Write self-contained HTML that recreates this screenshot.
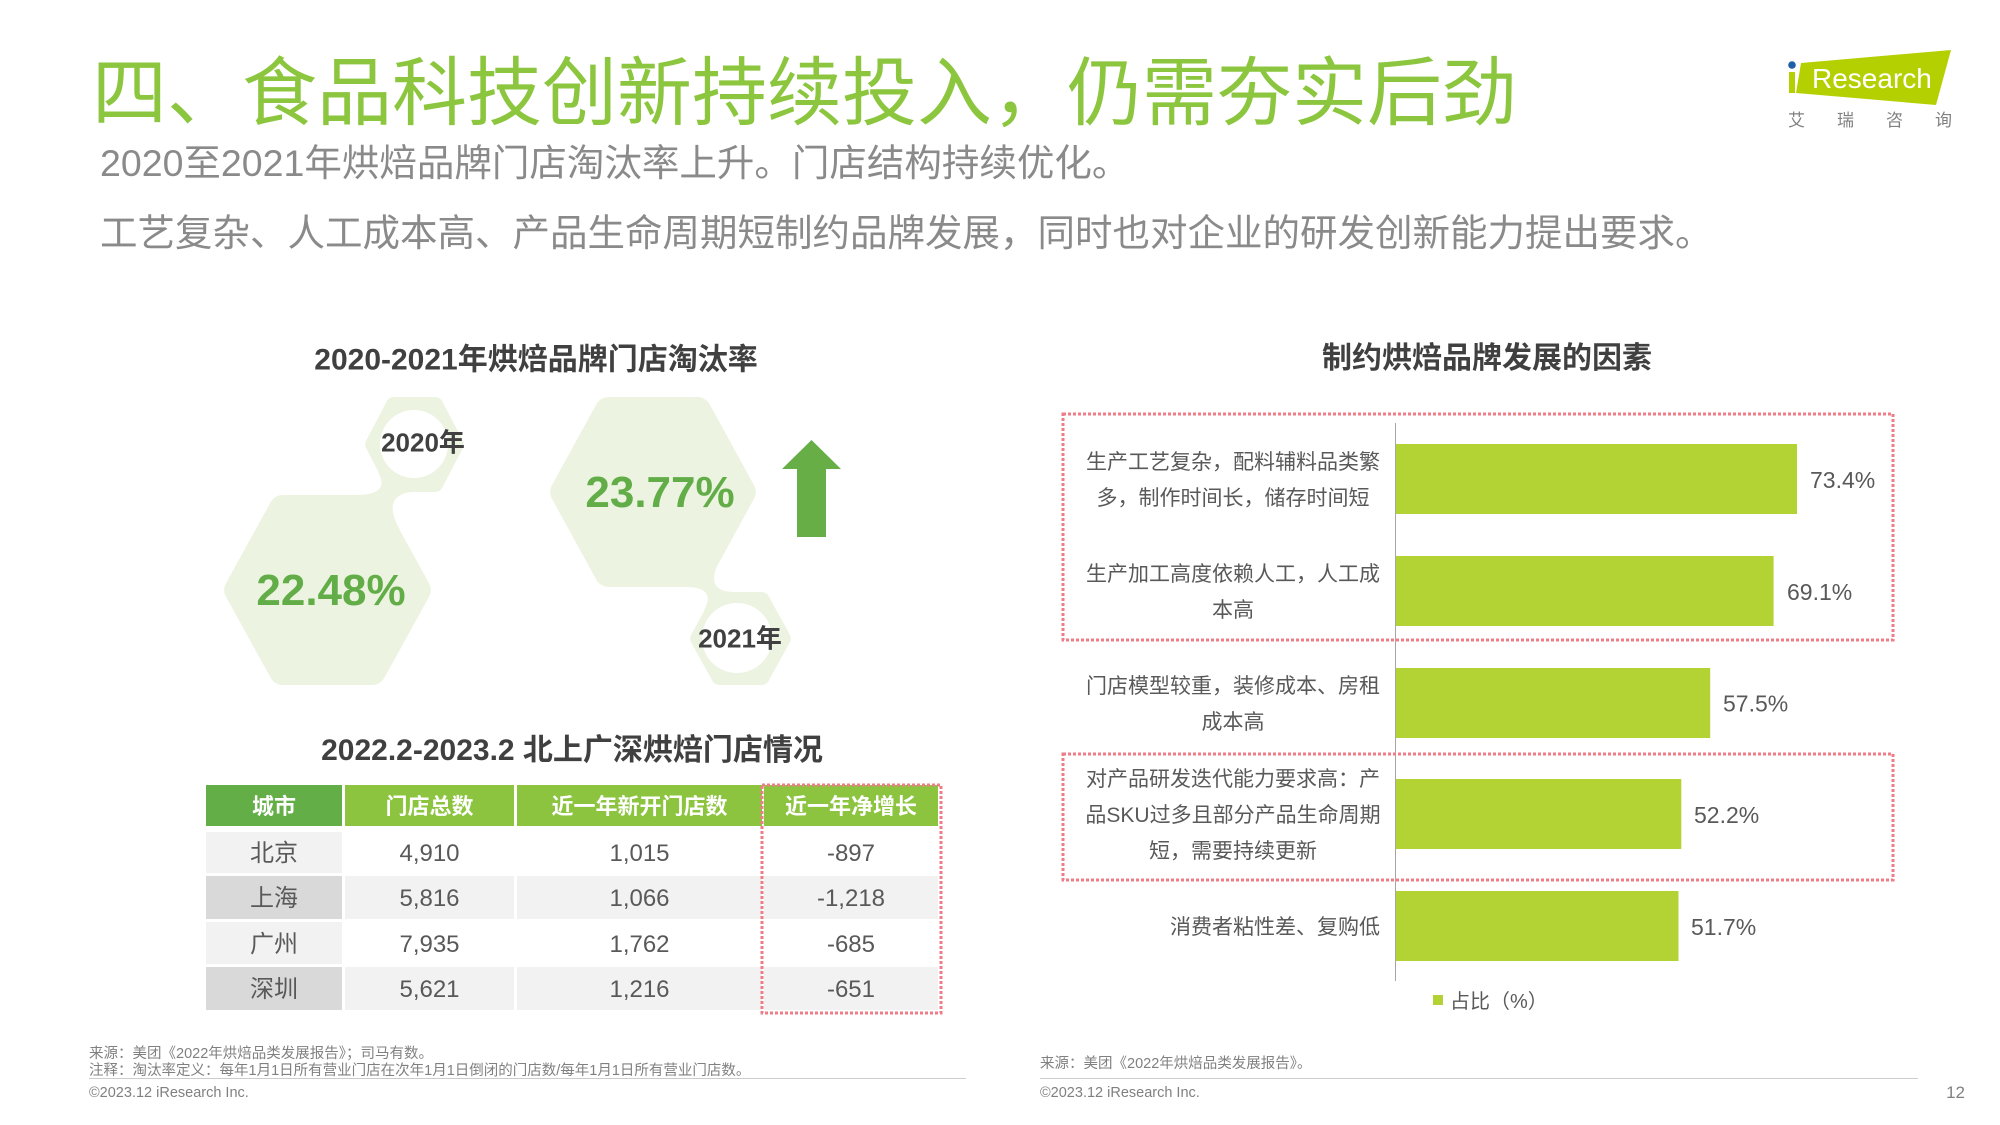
<!DOCTYPE html>
<html><head><meta charset="utf-8"><style>
html,body{margin:0;padding:0;background:#fff;}
svg{display:block;}
text{font-family:"Liberation Sans","Noto Sans CJK SC",sans-serif;}
</style></head><body>
<svg width="2000" height="1125" viewBox="0 0 2000 1125" xmlns="http://www.w3.org/2000/svg">
<rect width="2000" height="1125" fill="#fff"/>
<!-- Title -->
<text x="92" y="119" font-size="75" fill="#8cc63f">四、食品科技创新持续投入，仍需夯实后劲</text>
<text x="100" y="176" font-size="37.5" fill="#8a8a8a">2020至2021年烘焙品牌门店淘汰率上升。门店结构持续优化。</text>
<text x="100" y="246" font-size="37.5" fill="#8a8a8a">工艺复杂、人工成本高、产品生命周期短制约品牌发展，同时也对企业的研发创新能力提出要求。</text>

<!-- Logo -->
<polygon points="1801,63 1951,50 1936,105 1796,93" fill="#b5d000"/>
<rect x="1789" y="72" width="6" height="21" fill="#b5d000"/>
<circle cx="1792" cy="65" r="3.8" fill="#1f5fa8"/>
<text x="1812" y="88" font-size="28" fill="#fff">Research</text>
<text x="1788" y="126" font-size="17" fill="#808080" letter-spacing="32">艾瑞咨询</text>

<!-- Left chart title -->
<text x="536" y="369.5" font-size="30" font-weight="700" fill="#404040" text-anchor="middle">2020-2021年烘焙品牌门店淘汰率</text>

<!-- Hexagons -->
<g fill="#ecf4e1" stroke="#ecf4e1" stroke-linejoin="round">
<polygon stroke-width="28" points="238.2,590 282.85,509 372.15,509 416.8,590 372.15,671 282.85,671"/>
<polygon stroke-width="16" points="373.2,444.5 393.85,405 435.15,405 455.8,444.5 435.15,484 393.85,484"/>
<polygon stroke-width="28" points="564.2,492 608.6,411 697.4,411 741.8,492 697.4,573 608.6,573"/>
<polygon stroke-width="16" points="698.2,638.5 719.35,600 761.65,600 782.8,638.5 761.65,677 719.35,677"/>
</g>
<g fill="#ecf4e1">
<path d="M378,472 Q391,495 355,495 L400,530 Q378.6,491.5 420,491.5 Z"/>
<path d="M720,560 Q703,592 735,592 L704,610 Q717,587 685,587 Z"/>
</g>
<circle cx="414" cy="444" r="34" fill="#fff"/>
<circle cx="737" cy="638" r="35" fill="#fff"/>
<text x="423" y="451.6" font-size="26" font-weight="700" fill="#404040" text-anchor="middle">2020年</text>
<text x="740" y="647.6" font-size="26" font-weight="700" fill="#404040" text-anchor="middle">2021年</text>
<text x="331" y="605" font-size="44" font-weight="700" fill="#62ad47" text-anchor="middle">22.48%</text>
<text x="660" y="507" font-size="44" font-weight="700" fill="#62ad47" text-anchor="middle">23.77%</text>
<polygon points="811.5,440 841,469 826,469 826,537 797,537 797,469 782,469" fill="#67ae47"/>

<!-- Table -->
<text x="572" y="760" font-size="30" font-weight="700" fill="#404040" text-anchor="middle">2022.2-2023.2 北上广深烘焙门店情况</text>
<rect x="206" y="785" width="136" height="41" fill="#64ae47"/>
<rect x="345" y="785" width="169" height="41" fill="#8cc43f"/>
<rect x="517" y="785" width="245" height="41" fill="#8cc43f"/>
<rect x="764" y="785" width="174" height="41" fill="#8cc43f"/>
<g font-size="22" font-weight="700" fill="#fff" text-anchor="middle">
<text x="274" y="814">城市</text>
<text x="429.5" y="814">门店总数</text>
<text x="639.5" y="814">近一年新开门店数</text>
<text x="851" y="814">近一年净增长</text>
</g>
<rect x="206" y="832" width="136" height="41" fill="#f2f2f2"/>
<rect x="206" y="876" width="136" height="43" fill="#d9d9d9"/>
<rect x="206" y="922" width="136" height="42" fill="#f2f2f2"/>
<rect x="206" y="967" width="136" height="43" fill="#d9d9d9"/>
<rect x="345" y="876" width="169" height="43" fill="#f2f2f2"/>
<rect x="517" y="876" width="245" height="43" fill="#f2f2f2"/>
<rect x="764" y="876" width="174" height="43" fill="#f2f2f2"/>
<rect x="345" y="967" width="169" height="43" fill="#f2f2f2"/>
<rect x="517" y="967" width="245" height="43" fill="#f2f2f2"/>
<rect x="764" y="967" width="174" height="43" fill="#f2f2f2"/>
<g font-size="24" fill="#595959" text-anchor="middle">
<text x="274" y="861">北京</text><text x="429.5" y="861">4,910</text><text x="639.5" y="861">1,015</text><text x="851" y="861">-897</text>
<text x="274" y="906">上海</text><text x="429.5" y="906">5,816</text><text x="639.5" y="906">1,066</text><text x="851" y="906">-1,218</text>
<text x="274" y="952">广州</text><text x="429.5" y="952">7,935</text><text x="639.5" y="952">1,762</text><text x="851" y="952">-685</text>
<text x="274" y="997">深圳</text><text x="429.5" y="997">5,621</text><text x="639.5" y="997">1,216</text><text x="851" y="997">-651</text>
</g>
<rect x="762" y="785" width="179" height="228" fill="none" stroke="#ee7d87" stroke-width="3" stroke-dasharray="3 2"/>

<!-- Right chart -->
<text x="1487" y="368" font-size="30" font-weight="700" fill="#404040" text-anchor="middle">制约烘焙品牌发展的因素</text>
<line x1="1395.5" y1="423" x2="1395.5" y2="981" stroke="#a6a6a6" stroke-width="1"/>
<g fill="#b3d334">
<rect x="1396" y="444" width="401" height="70"/>
<rect x="1396" y="556" width="377.6" height="70"/>
<rect x="1396" y="668" width="314.2" height="70"/>
<rect x="1396" y="779" width="285.3" height="70"/>
<rect x="1396" y="891" width="282.5" height="70"/>
</g>
<g font-size="23" fill="#595959">
<text x="1810" y="488">73.4%</text>
<text x="1787" y="600">69.1%</text>
<text x="1723" y="711.6">57.5%</text>
<text x="1694" y="823">52.2%</text>
<text x="1691" y="935">51.7%</text>
</g>
<g font-size="21" fill="#595959" text-anchor="middle">
<text x="1233" y="469">生产工艺复杂，配料辅料品类繁</text>
<text x="1233" y="505">多，制作时间长，储存时间短</text>
<text x="1233" y="581">生产加工高度依赖人工，人工成</text>
<text x="1233" y="617">本高</text>
<text x="1233" y="693">门店模型较重，装修成本、房租</text>
<text x="1233" y="729">成本高</text>
<text x="1233" y="786">对产品研发迭代能力要求高：产</text>
<text x="1233" y="822">品SKU过多且部分产品生命周期</text>
<text x="1233" y="858">短，需要持续更新</text>
<text x="1380" y="934" text-anchor="end">消费者粘性差、复购低</text>
</g>
<rect x="1063" y="414" width="830" height="226" fill="none" stroke="#ee7d87" stroke-width="3" stroke-dasharray="3 2"/>
<rect x="1063" y="754" width="830" height="126" fill="none" stroke="#ee7d87" stroke-width="3" stroke-dasharray="3 2"/>
<rect x="1433" y="995" width="10" height="10" fill="#b3d334"/>
<text x="1450" y="1008" font-size="20" fill="#595959">占比（%）</text>

<!-- Footer -->
<g font-size="14.5" fill="#808080">
<text x="89" y="1058">来源：美团《2022年烘焙品类发展报告》；司马有数。</text>
<text x="89" y="1075">注释：淘汰率定义：每年1月1日所有营业门店在次年1月1日倒闭的门店数/每年1月1日所有营业门店数。</text>
<text x="89" y="1097">©2023.12 iResearch Inc.</text>
<text x="1040" y="1068">来源：美团《2022年烘焙品类发展报告》。</text>
<text x="1040" y="1097">©2023.12 iResearch Inc.</text>
</g>
<text x="1965" y="1098" font-size="17" fill="#808080" text-anchor="end">12</text>
<line x1="89" y1="1078.5" x2="966" y2="1078.5" stroke="#cccccc" stroke-width="1"/>
<line x1="1040" y1="1078.5" x2="1918" y2="1078.5" stroke="#cccccc" stroke-width="1"/>
</svg>
</body></html>
